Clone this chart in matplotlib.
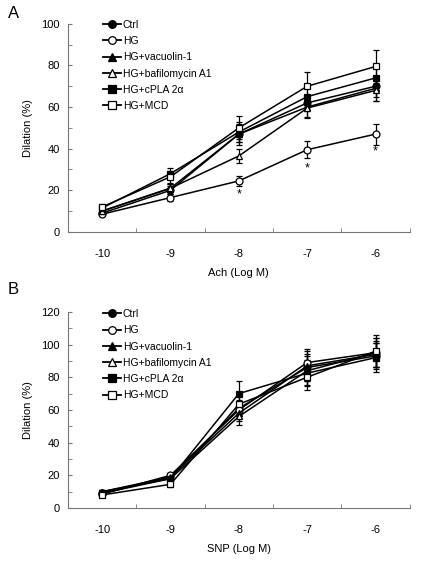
import numpy as np
import matplotlib.pyplot as plt
from matplotlib.ticker import MultipleLocator
from matplotlib.lines import Line2D

plt.rcParams['font.family'] = ['Liberation Sans', 'DejaVu Sans']

x = [-10, -9, -8, -7, -6]
labels = ['Ctrl', 'HG', 'HG+vacuolin-1', 'HG+bafilomycin A1',
          'HG+cPLA 2\u03b1', 'HG+MCD']
markers = ['o', 'o', '^', '^', 's', 's']
filled = [True, False, True, False, True, False]

# panel A: Ach
ach_ctrl = [9, 20, 47, 62, 70]
ach_hg = [8.5, 16.5, 24.5, 39.5, 47]
ach_vac = [10, 21, 47, 60, 69]
ach_baf = [10, 21, 36.5, 59.5, 68]
ach_cpla = [11.5, 28, 48, 65, 74]
ach_mcd = [12, 26.5, 50, 70, 79.5]
ach_err = [[1, 2, 4, 4, 5],
           [1, 1.5, 2.5, 4, 5],
           [1, 2, 5, 5, 6],
           [1, 2, 3.5, 5, 5],
           [1.5, 2.5, 5, 5, 6],
           [1.5, 3, 5.5, 7, 8]]
star_x = [-8, -7, -6]
star_y = [18, 30.5, 38.5]

# panel B: SNP
snp_ctrl = [9, 19, 61, 86, 93]
snp_hg = [8.5, 20, 60, 89, 95]
snp_vac = [10, 19, 58, 87, 94]
snp_baf = [10, 18, 56, 84, 95]
snp_cpla = [9, 18, 70, 82.5, 92]
snp_mcd = [8, 14.5, 63.5, 80, 96]
snp_err = [[1, 1.5, 5, 8, 8],
           [1, 1.5, 5, 8, 9],
           [1, 1.5, 5, 9, 8],
           [1, 1.5, 5, 9, 9],
           [1, 1.5, 8, 8, 9],
           [1, 1.5, 6, 8, 10]]

fig = plt.figure(figsize=(4.3, 5.67), dpi=100)
axA = fig.add_axes([0.158, 0.591, 0.795, 0.367])
axB = fig.add_axes([0.158, 0.104, 0.795, 0.346])


def draw(ax, series, errs, ymax, ystep, xlabel, legend_y):
    handles = []
    for i, (ys, e) in enumerate(zip(series, errs)):
        fc = 'black' if filled[i] else 'white'
        ax.errorbar(x, ys, yerr=e, color='black', lw=1.1, capsize=2.5,
                    elinewidth=0.9, capthick=0.9, marker=markers[i], ms=5,
                    mfc=fc, mec='black', mew=0.9, zorder=3)
        handles.append(Line2D([], [], color='black', lw=1.3,
                              marker=markers[i], ms=5.5, mfc=fc,
                              mec='black', mew=0.9))
    ax.set_xlim(-10.5, -5.5)
    ax.set_ylim(0, ymax)
    ax.set_xticks(x)
    ax.set_xticklabels([str(v) for v in x])
    ax.xaxis.set_minor_locator(MultipleLocator(1, offset=0.5))
    ax.tick_params(axis='x', which='major', length=0, pad=12, labelsize=8)
    ax.tick_params(axis='x', which='minor', length=3, direction='in',
                   color='#777777')
    ax.yaxis.set_major_locator(MultipleLocator(ystep))
    ax.yaxis.set_minor_locator(MultipleLocator(ystep / 2))
    ax.tick_params(axis='y', which='both', length=3, direction='in',
                   color='#777777', labelsize=8, pad=6)
    for s in ['top', 'right']:
        ax.spines[s].set_visible(False)
    for s in ['left', 'bottom']:
        ax.spines[s].set_color('#777777')
    ax.set_ylabel('Dilation (%)', fontsize=8, labelpad=6)
    ax.set_xlabel(xlabel, fontsize=8, labelpad=7)
    ax.legend(handles, labels, loc='upper left',
              bbox_to_anchor=(0.075, legend_y), frameon=False,
              fontsize=7.5, handlelength=1.7, handletextpad=0.2,
              labelspacing=0.6)


draw(axA, [ach_ctrl, ach_hg, ach_vac, ach_baf, ach_cpla, ach_mcd], ach_err,
     100, 20, 'Ach (Log M)', 1.064)
for sx, sy in zip(star_x, star_y):
    axA.text(sx, sy, '*', ha='center', va='center', fontsize=9)

draw(axB, [snp_ctrl, snp_hg, snp_vac, snp_baf, snp_cpla, snp_mcd], snp_err,
     120, 20, 'SNP (Log M)', 1.062)

fig.text(0.018, 0.977, 'A', fontsize=12, va='center')
fig.text(0.018, 0.49, 'B', fontsize=12, va='center')

fig.savefig('out.png', dpi=100)
